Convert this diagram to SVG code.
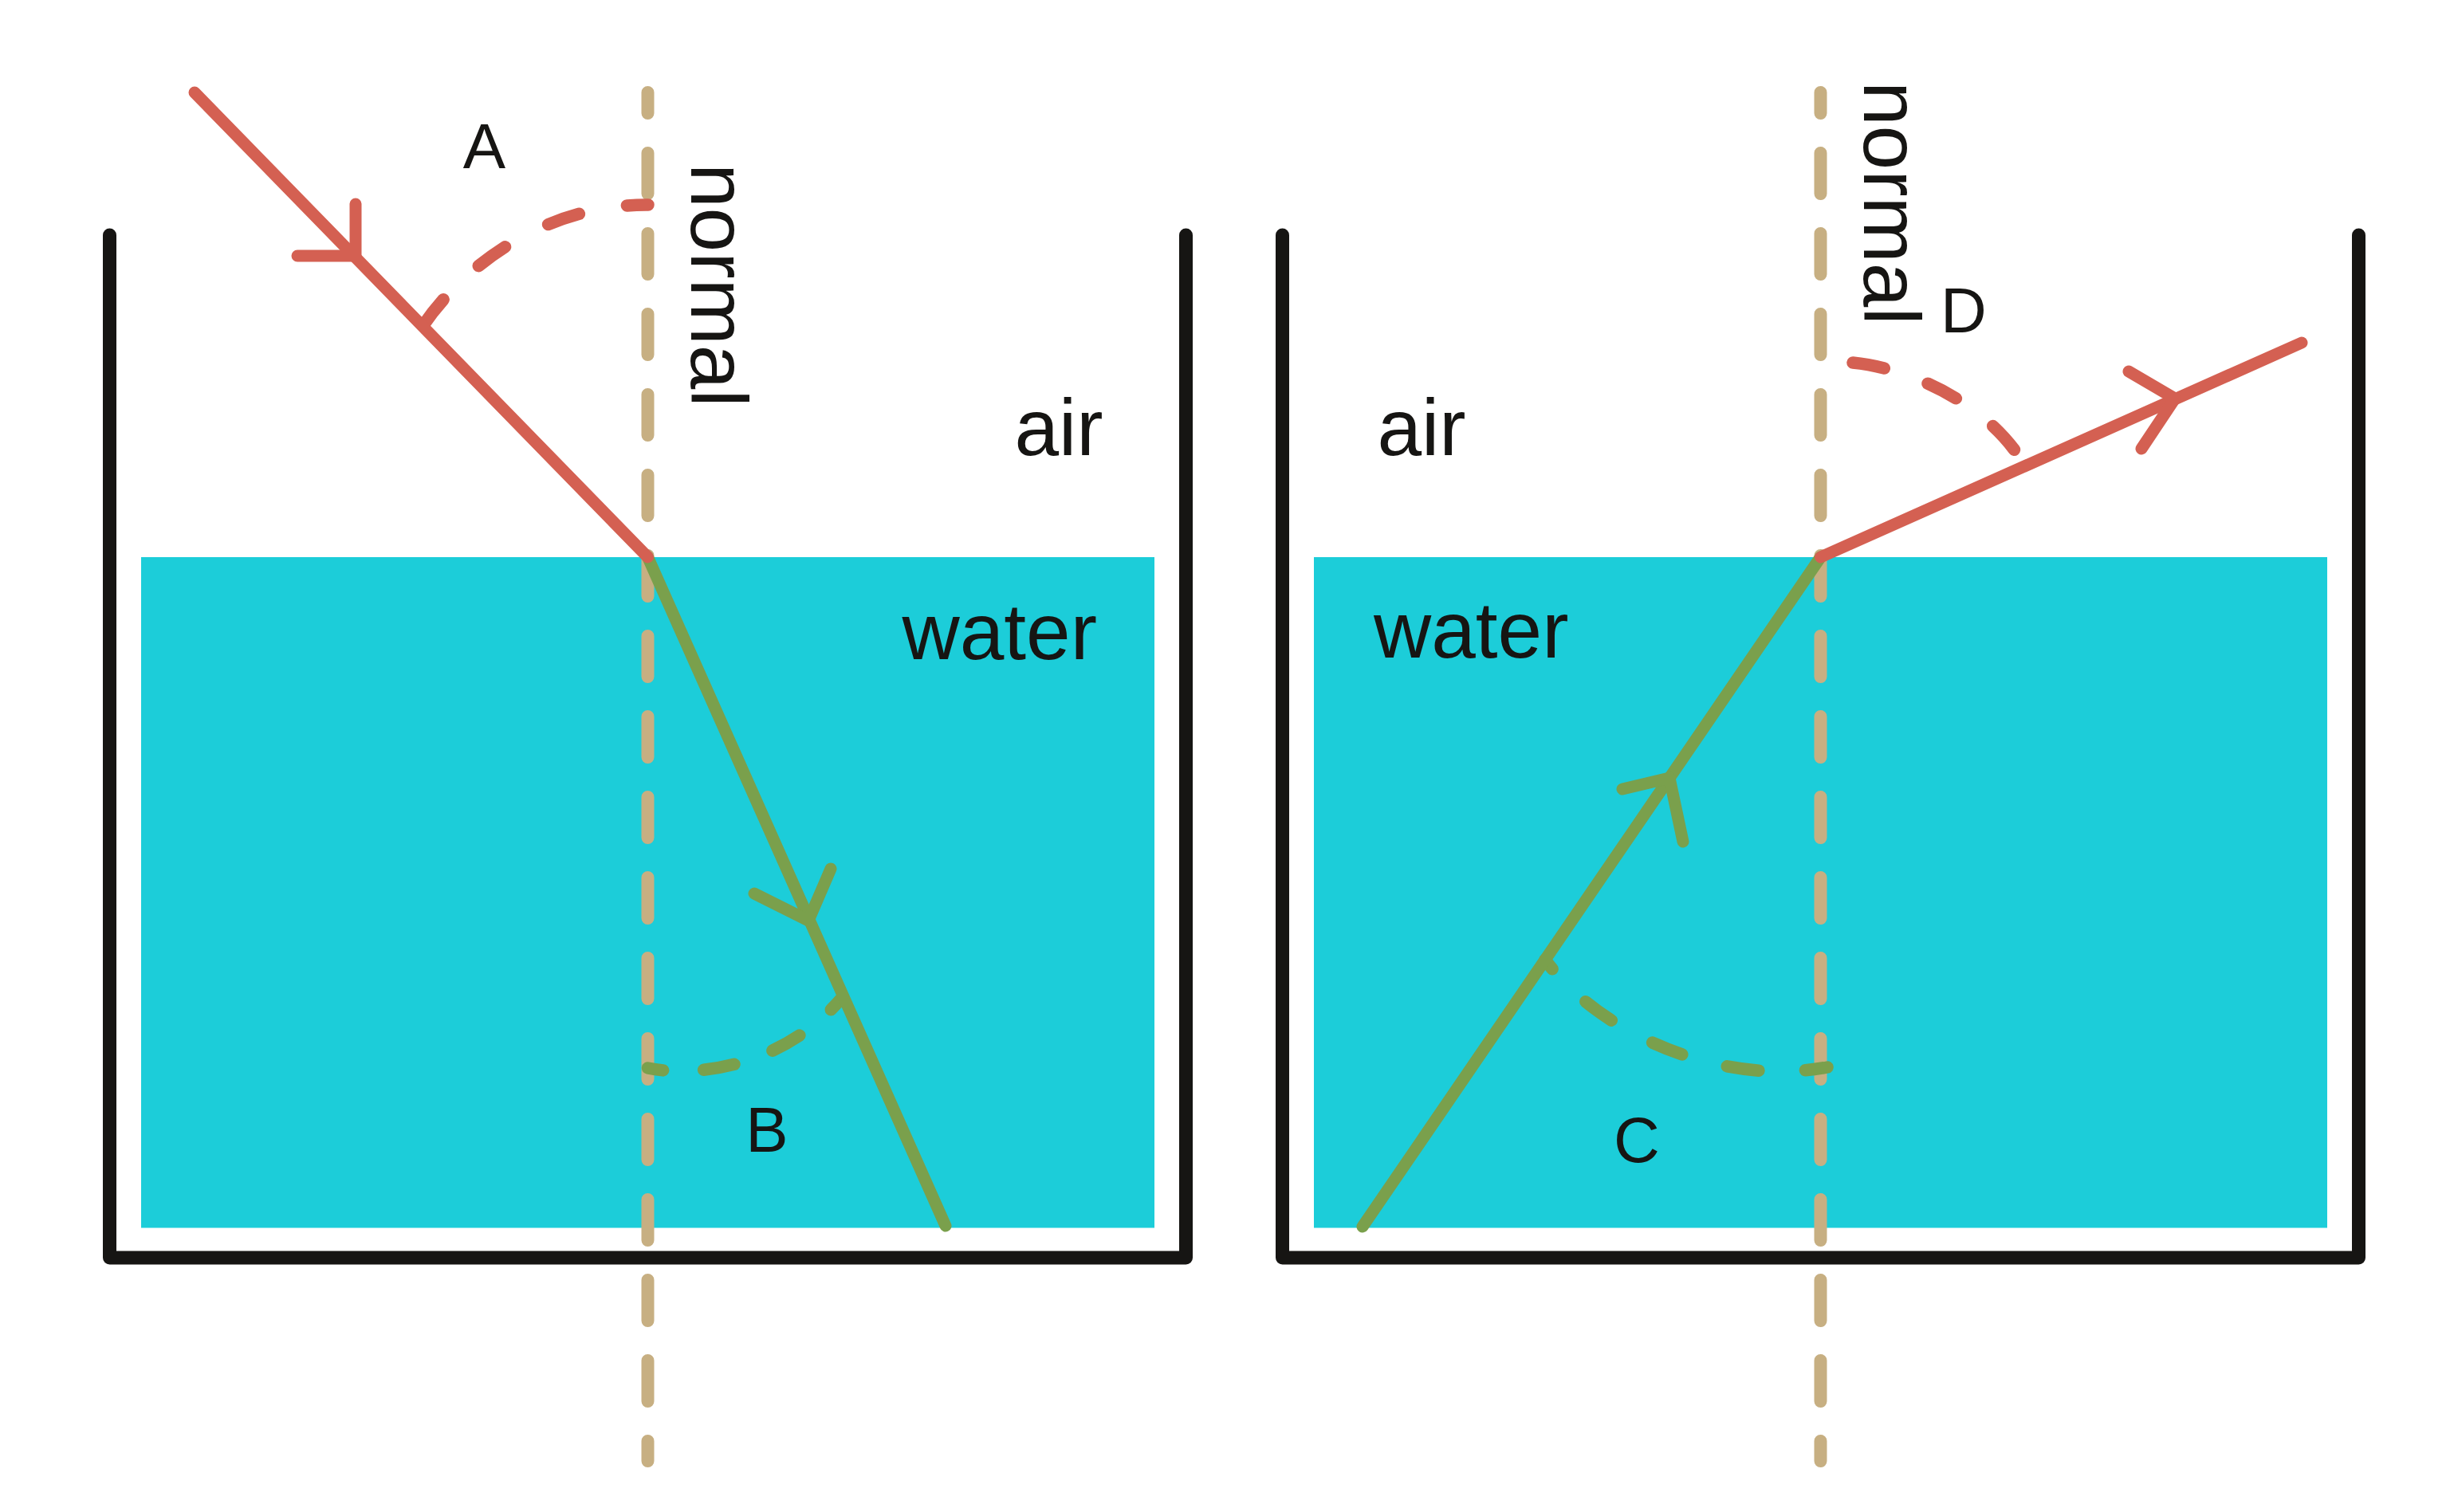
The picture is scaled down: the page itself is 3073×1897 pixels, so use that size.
<svg xmlns="http://www.w3.org/2000/svg" width="3073" height="1897" viewBox="0 0 3073 1897">
<style>
.bg{fill:#ffffff}
.water{fill:#1CCDD9}
.wall{fill:none;stroke:#161513;stroke-width:17;stroke-linecap:round;stroke-linejoin:round}
.normal{fill:none;stroke:#C7AF82;stroke-width:16;stroke-linecap:round;stroke-dasharray:51 50;stroke-dashoffset:25}
.red{fill:none;stroke:#D46052;stroke-width:15;stroke-linecap:round;stroke-linejoin:round}
.green{fill:none;stroke:#7AA04C;stroke-width:15;stroke-linecap:round;stroke-linejoin:round}
.arc{stroke-width:15.5}
.lbl{font-family:"Liberation Sans",Arial,sans-serif;fill:#161513}
.word{font-size:100px}
.letter{font-size:80px;text-anchor:middle}
</style>
<rect class="bg" x="0" y="0" width="3073" height="1897"/>

<g id="container-left">
  <rect class="water" x="177" y="699" width="1271" height="841.5"/>
  <path class="wall" d="M137.5,295 V1578 H1487.5 V295"/>
</g>
<g id="container-right">
  <rect class="water" x="1648" y="699" width="1271" height="841.5"/>
  <path class="wall" d="M1608.5,295 V1578 H2958.5 V295"/>
</g>

<g id="normals">
  <path id="normal-left" class="normal" d="M812.5,116 V1833"/>
  <path id="normal-right" class="normal" d="M2283.5,116 V1833"/>
</g>

<g id="angles">
  <path id="arc-A" class="red arc" d="M531,408 C583,332 685,256 813,257" stroke-dasharray="41 61"/>
  <path id="arc-B" class="green arc" d="M812.5,1340 C870,1352 980,1340 1055,1253" stroke-dasharray="39 51" stroke-dashoffset="19.5"/>
  <path id="arc-C" class="green arc" d="M1938,1204 C2000,1290 2150,1365 2292,1339" stroke-dasharray="40 58.5" stroke-dashoffset="25"/>
  <path id="arc-D" class="red arc" d="M2324,455 C2395,462 2490,505 2536,578" stroke-dasharray="40 58"/>
</g>

<g id="rays">
  <path id="ray-left-refracted" class="green" d="M812.5,699 L1186,1538"/>
  <path id="arrow-left-refracted" class="green" d="M946,1121 L1014,1155 L1042,1090"/>
  <path id="ray-left-incident" class="red" d="M244,116 L812.5,699"/>
  <path id="arrow-left-incident" class="red" d="M446,256 L446,321 L373,321"/>
  <path id="ray-right-incident" class="green" d="M1709,1539 L2283.5,699"/>
  <path id="arrow-right-incident" class="green" d="M2035,990 L2094,976 L2111,1056"/>
  <path id="ray-right-refracted" class="red" d="M2283.5,699 L2887,430"/>
  <path id="arrow-right-refracted" class="red" d="M2670,466 L2728,500 L2686,563"/>
</g>

<g id="labels">
  <text class="lbl word" x="1272.5" y="571">air</text>
  <text class="lbl word" x="1131.5" y="826.5">water</text>
  <text class="lbl word" x="1727.5" y="571">air</text>
  <text class="lbl word" x="1723" y="825">water</text>
  <text class="lbl word" transform="translate(867,205) rotate(90)">normal</text>
  <text class="lbl word" transform="translate(2338,102) rotate(90)">normal</text>
  <text class="lbl letter" x="607.5" y="211">A</text>
  <text class="lbl letter" x="962" y="1445">B</text>
  <text class="lbl letter" x="2053" y="1458">C</text>
  <text class="lbl letter" x="2463" y="417">D</text>
</g>
</svg>
